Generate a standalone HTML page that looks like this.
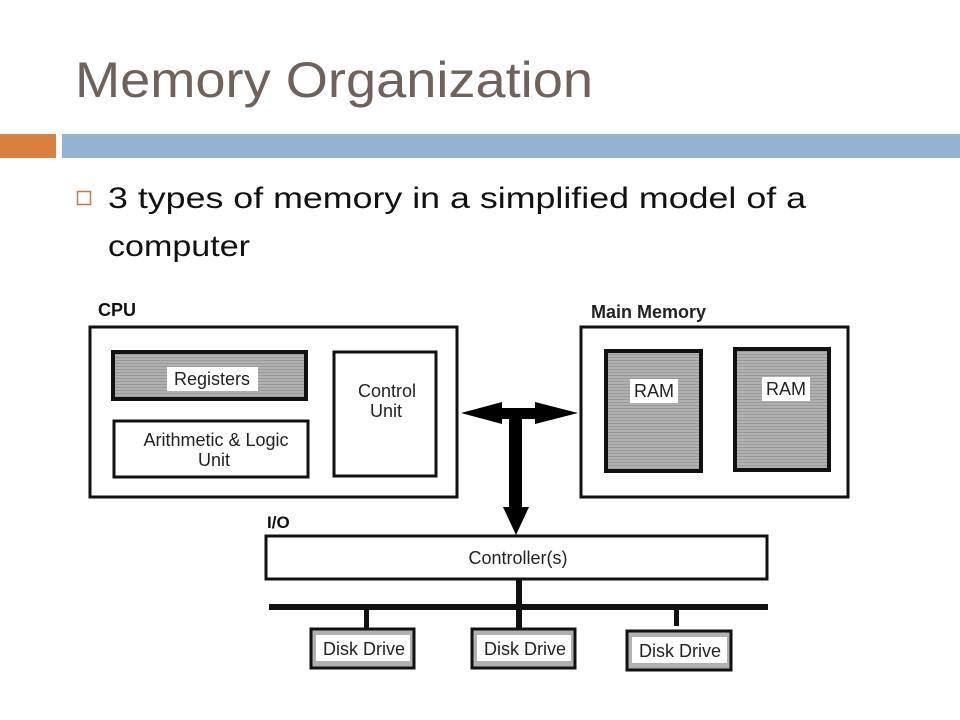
<!DOCTYPE html>
<html><head><meta charset="utf-8"><style>
html,body{margin:0;padding:0;background:#fff;width:960px;height:720px;overflow:hidden}
svg{display:block}
</style></head><body>
<svg width="960" height="720" viewBox="0 0 960 720" xmlns="http://www.w3.org/2000/svg" font-family="Liberation Sans, Arial, sans-serif">
<defs>
<pattern id="gs" width="4" height="3" patternUnits="userSpaceOnUse">
<rect width="4" height="3" fill="#b0b0b0"/><rect width="4" height="1" fill="#9a9a9a"/>
</pattern>
</defs>
<text x="75" y="97" font-size="50" fill="#6f625b" textLength="518" lengthAdjust="spacingAndGlyphs">Memory Organization</text>
<rect x="0" y="134" width="56" height="24" fill="#d9803f"/>
<rect x="62" y="134" width="898" height="24" fill="#93b3d0"/>
<rect x="77.5" y="191.5" width="13" height="13" fill="none" stroke="#c07a50" stroke-width="1.5"/>
<text x="108" y="208" font-size="30" fill="#111" textLength="698" lengthAdjust="spacingAndGlyphs">3 types of memory in a simplified model of a</text>
<text x="108" y="256" font-size="30" fill="#111" textLength="142" lengthAdjust="spacingAndGlyphs">computer</text>

<text x="98" y="316" font-size="18" font-weight="bold" fill="#111">CPU</text>
<rect x="90" y="327" width="367" height="170" fill="#fff" stroke="#111" stroke-width="3"/>
<rect x="113" y="352" width="193" height="47" fill="url(#gs)" stroke="#111" stroke-width="4"/>
<rect x="167" y="367" width="91" height="24" fill="#fff"/>
<text x="212" y="385" font-size="18" fill="#222" text-anchor="middle">Registers</text>
<rect x="114" y="421" width="194" height="56" fill="#fff" stroke="#111" stroke-width="3"/>
<text x="216" y="446" font-size="18" fill="#222" text-anchor="middle">Arithmetic &amp; Logic</text>
<text x="214" y="466" font-size="18" fill="#222" text-anchor="middle">Unit</text>
<rect x="334" y="352" width="102" height="124" fill="#fff" stroke="#111" stroke-width="3"/>
<text x="387" y="397" font-size="18" fill="#222" text-anchor="middle">Control</text>
<text x="386" y="417" font-size="18" fill="#222" text-anchor="middle">Unit</text>

<text x="591" y="318" font-size="18" font-weight="bold" fill="#222">Main Memory</text>
<rect x="581" y="327" width="267" height="170" fill="#fff" stroke="#111" stroke-width="3"/>
<rect x="606" y="351" width="95" height="120" fill="url(#gs)" stroke="#111" stroke-width="4"/>
<rect x="630" y="379" width="48" height="24" fill="#fff"/>
<text x="654" y="397" font-size="18" fill="#222" text-anchor="middle">RAM</text>
<rect x="735" y="349" width="94" height="121" fill="url(#gs)" stroke="#111" stroke-width="4"/>
<rect x="762" y="377" width="48" height="24" fill="#fff"/>
<text x="786" y="395" font-size="18" fill="#222" text-anchor="middle">RAM</text>

<polygon points="461,413 502,402 502,408 535,408 535,402 578,413 535,424 535,419 522,419 522,507 529,507 516,535 503,507 509,507 509,419 502,419 502,424" fill="#000"/>

<text x="267" y="528" font-size="17" font-weight="bold" fill="#111">I/O</text>
<rect x="266" y="536" width="501" height="43" fill="#fff" stroke="#111" stroke-width="3"/>
<text x="518" y="564" font-size="18" fill="#222" text-anchor="middle">Controller(s)</text>
<rect x="516" y="580" width="6" height="27" fill="#111"/>
<rect x="269" y="604" width="499" height="6" fill="#111"/>
<rect x="364" y="608" width="5" height="20" fill="#111"/>
<rect x="516" y="608" width="6" height="20" fill="#111"/>
<rect x="674" y="608" width="5" height="18" fill="#111"/>

<rect x="311" y="629" width="103" height="39" fill="#b0b0b0" stroke="#111" stroke-width="3"/>
<rect x="316" y="635" width="94" height="26" fill="#fff"/>
<text x="364" y="655" font-size="18" fill="#222" text-anchor="middle">Disk Drive</text>
<rect x="472" y="629" width="103" height="39" fill="#b0b0b0" stroke="#111" stroke-width="3"/>
<rect x="477" y="635" width="94" height="26" fill="#fff"/>
<text x="525" y="655" font-size="18" fill="#222" text-anchor="middle">Disk Drive</text>
<rect x="627" y="631" width="104" height="39" fill="#b0b0b0" stroke="#111" stroke-width="3"/>
<rect x="632" y="637" width="95" height="26" fill="#fff"/>
<text x="680" y="657" font-size="18" fill="#222" text-anchor="middle">Disk Drive</text>
</svg>
</body></html>
